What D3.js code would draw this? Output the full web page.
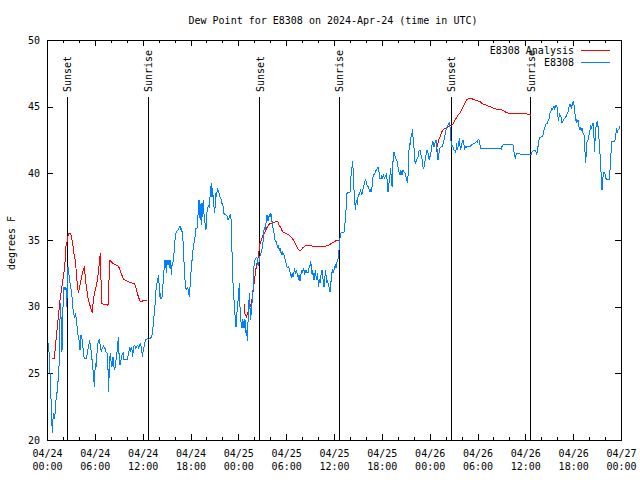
<!DOCTYPE html>
<html><head><meta charset="utf-8">
<script src="https://cdn.jsdelivr.net/npm/d3@7/dist/d3.min.js"></script>
<style>
body{margin:0;background:#fff}
svg{display:block}
text{font-family:"DejaVu Sans Mono",monospace;font-size:10px;fill:#000}
</style></head><body>
<svg id="chart" width="640" height="480"></svg>
<script>
const chartTitle = "Dew Point for E8308 on 2024-Apr-24 (time in UTC)";
const yAxisLabel = "degrees F";
const startTime = "2024-04-24T00:00:00Z";
const xDomainHours = [0, 72];
const yDomain = [20, 50];
const xTickHours = [0, 6, 12, 18, 24, 30, 36, 42, 48, 54, 60, 66, 72];
const xMinorHours = d3.range(0, 73, 2);
const yTicks = [20, 25, 30, 35, 40, 45, 50];
const seriesNames = ["E8308 Analysis", "E8308"];
const seriesColors = ["#ff0000", "#0080ff"];
const eventNames = ["Sunset", "Sunrise", "Sunset", "Sunrise", "Sunset", "Sunrise"];
const eventHours = [2.57, 12.71, 26.66, 36.67, 50.72, 60.71];

// Observed dew point (E8308), hours since start, degrees F
const obsHours = [
0.13,0.25,0.38,0.5,0.59,0.67,0.79,0.96,1.13,1.3,1.46,1.55,1.63,1.71,1.8,1.88,1.97,2.13,2.26,2.38,2.47,2.55,2.63,2.72,2.8,2.97,3.09,3.22,3.3,3.47,3.55,3.64,3.72,3.8,3.89,4.01,4.14,4.26,4.43,4.56,4.68,4.97,5.06,5.23,5.35,5.44,5.56,5.69,5.81,5.94,6.06,6.19,6.31,6.44,6.56,6.69,6.81,6.94,7.07,7.19,7.32,7.4,7.57,7.69,7.74,7.82,7.94,8.03,8.15,8.28,8.4,8.49,8.66,8.82,8.95,9.03,9.16,9.28,9.41,9.58,9.66,10.08,10.25,10.37,10.5,10.62,10.75,10.87,11.0,11.12,11.25,11.37,11.5,11.58,11.71,11.84,11.96,12.09,12.21,12.34,12.46,12.59,12.76,
12.92,13.13,13.25,13.34,13.46,13.59,13.67,13.76,13.88,13.97,14.05,14.13,14.22,14.3,14.43,14.51,14.59,14.68,14.8,14.89,14.97,15.05,15.18,15.26,15.35,15.43,15.51,15.6,15.68,15.76,15.85,15.97,16.06,16.18,16.27,16.39,16.52,16.6,16.68,16.77,16.85,16.98,17.06,17.14,17.23,17.31,17.39,17.52,17.65,17.77,17.85,17.94,18.02,18.15,18.23,18.31,18.4,18.48,18.57,18.65,18.82,18.9,18.98,19.07,19.15,19.23,19.32,19.4,19.48,19.61,19.69,19.78,19.86,19.94,20.03,20.11,20.2,20.28,20.36,20.45,20.53,20.61,20.7,20.78,20.86,20.95,21.03,21.11,21.2,21.28,21.37,21.45,21.53,21.62,21.7,21.78,21.87,21.95,22.04,22.12,22.2,22.29,22.45,22.62,22.7,22.79,22.87,23.04,23.12,23.21,23.29,23.37,23.46,23.54,23.62,23.71,23.79,23.87,23.96,24.04,24.13,24.17,24.21,24.29,24.38,24.46,24.54,24.63,24.71,24.79,24.88,24.96,25.05,25.13,25.21,25.3,25.38,25.46,25.55,25.63,25.71,25.8,25.88,25.97,26.05,26.13,26.3,26.38,26.47,26.55,26.63,26.72,26.8,
26.96,27.05,27.13,27.22,27.3,27.39,27.47,27.56,27.64,27.72,27.81,27.89,27.97,28.06,28.14,28.22,28.31,28.39,28.48,28.56,28.64,28.73,28.81,28.9,28.98,29.06,29.15,29.23,29.31,29.4,29.48,29.56,29.65,29.73,29.82,29.9,29.98,30.07,30.15,30.23,30.32,30.4,30.48,30.57,30.65,30.74,30.82,30.9,30.99,31.07,31.15,31.24,31.32,31.41,31.49,31.57,31.66,31.74,31.82,31.91,31.99,32.07,32.16,32.24,32.33,32.41,32.49,32.58,32.66,32.74,32.83,32.91,33.0,33.08,33.16,33.25,33.33,33.41,33.5,33.58,33.67,33.75,33.83,33.92,34.0,34.08,34.17,34.25,34.34,34.42,34.5,34.59,34.67,34.75,34.84,34.92,35.0,35.09,35.17,35.26,35.34,35.42,35.51,35.59,35.67,35.76,35.84,35.93,36.01,36.09,36.18,36.26,36.34,36.43,36.51,36.6,36.68,
36.76,36.84,37.0,37.26,37.38,37.51,37.59,37.8,38.01,38.13,38.26,38.34,38.43,38.51,38.59,38.68,38.76,38.84,38.93,39.01,39.1,39.18,39.26,39.35,39.43,39.51,39.6,39.68,39.76,39.85,39.93,40.02,40.1,40.18,40.27,40.35,40.43,40.52,40.6,40.68,40.77,40.85,40.94,41.02,41.1,41.19,41.27,41.35,41.44,41.52,41.6,41.69,41.77,41.86,41.94,42.02,42.11,42.19,42.27,42.36,42.44,42.52,42.61,42.69,42.77,42.86,42.94,43.03,43.11,43.19,43.28,43.36,43.44,43.53,43.61,43.69,43.78,43.86,43.94,44.03,44.11,44.2,44.28,44.36,44.45,44.53,44.61,44.7,44.78,44.86,44.95,45.03,45.12,45.2,45.28,45.37,45.45,45.53,45.62,45.7,45.78,45.87,45.95,46.04,46.12,46.2,46.29,46.37,46.45,46.54,46.62,46.7,46.79,46.87,46.96,47.04,47.12,47.21,47.29,47.37,47.46,47.54,47.62,47.71,47.79,47.87,47.96,48.04,48.13,48.21,48.29,48.38,48.46,48.54,48.63,48.71,48.79,48.88,48.96,49.05,49.13,49.21,49.3,49.38,49.55,49.63,49.71,49.8,49.88,49.97,50.05,50.13,50.22,50.3,50.38,50.47,50.55,50.64,50.72,
50.8,50.89,50.97,51.05,51.14,51.22,51.31,51.39,51.47,51.56,51.64,51.72,51.81,51.89,51.97,52.06,52.14,52.22,52.31,52.39,52.48,52.56,52.64,52.89,53.06,53.23,53.4,53.56,53.73,53.9,53.98,54.06,54.15,54.23,54.32,54.4,54.73,55.15,55.57,55.99,56.41,56.82,56.99,57.07,57.16,57.24,57.66,58.08,58.41,58.5,58.58,58.66,58.75,58.83,58.91,59.33,59.75,60.17,60.59,60.75,60.84,61.0,61.26,61.42,61.51,61.59,
61.67,61.76,61.84,62.01,62.18,62.26,62.34,62.43,62.51,62.59,62.76,62.84,62.93,63.01,63.09,63.18,63.26,63.35,63.43,63.51,63.6,63.68,63.76,63.85,63.93,64.01,64.1,64.18,64.27,64.35,64.43,64.52,64.6,64.68,64.77,64.85,64.93,65.02,65.1,65.19,65.27,65.35,65.44,65.52,65.6,65.69,65.77,65.86,65.94,66.02,66.11,66.19,66.27,66.36,66.44,66.52,66.61,66.69,66.78,66.86,66.94,67.03,67.11,67.19,67.28,67.36,67.44,67.53,67.61,67.7,67.78,67.86,67.95,68.03,68.11,68.2,68.28,68.36,68.45,68.53,68.62,68.7,68.78,68.87,68.95,69.03,69.12,69.2,69.28,69.37,69.45,69.54,69.62,69.7,69.79,69.87,69.95,70.04,70.12,70.2,70.54,70.62,70.71,70.79,70.87,71.21,71.29,71.37,71.46,71.54,71.62,71.71,71.79,71.87
];
const obsValues = [
27.3,26.6,25.0,23.1,21.5,20.5,22.0,21.6,23.0,23.75,25.0,26.0,29.0,30.25,28.25,26.6,29.5,31.5,31.25,31.5,30.0,31.25,33.0,32.75,32.0,31.5,31.0,30.25,29.5,29.25,29.5,29.25,29.0,28.25,27.9,27.5,26.75,27.9,27.5,26.6,26.1,26.1,26.6,27.1,27.5,27.0,26.6,25.75,25.0,24.0,25.75,25.5,27.0,27.4,27.5,27.1,26.6,26.9,27.05,26.9,26.9,26.6,26.5,24.75,23.6,25.75,26.5,25.9,25.5,26.25,25.5,25.25,26.0,26.75,27.75,26.5,25.6,26.0,26.4,26.5,26.05,26.05,26.5,27.0,26.6,27.0,26.25,27.0,27.1,26.9,27.0,27.1,26.9,27.1,27.2,27.0,26.25,26.75,27.1,27.5,27.55,27.6,27.55,
27.6,27.75,28.1,28.75,29.5,30.4,31.25,31.75,31.9,32.4,31.75,30.75,31.0,30.6,30.75,31.25,32.1,32.75,33.5,33.25,32.5,33.5,33.1,33.5,32.9,33.5,33.25,32.4,33.1,33.1,33.6,34.25,35.0,35.5,35.6,35.75,35.8,35.95,36.05,35.75,35.9,35.5,34.9,33.75,32.9,32.0,31.4,31.3,31.4,31.1,30.75,31.5,32.4,33.0,33.9,34.25,34.6,35.0,35.25,35.9,35.9,36.5,37.25,38.0,36.9,36.5,37.75,36.1,37.25,38.0,37.0,36.5,36.0,35.75,36.75,37.4,37.5,37.6,37.5,38.25,38.75,39.25,38.25,38.9,38.0,37.5,37.0,37.75,38.5,38.25,38.9,38.75,38.6,38.5,38.25,38.1,38.0,37.75,37.75,37.4,37.0,36.9,36.9,36.75,36.5,36.6,36.75,36.9,36.25,34.0,32.4,31.25,30.5,30.0,28.9,28.5,29.1,30.0,30.4,31.0,31.75,31.0,30.0,29.25,28.5,28.4,29.1,28.75,28.4,29.1,28.9,28.0,28.25,27.4,28.75,30.0,31.0,29.9,29.0,29.75,30.25,30.75,31.75,33.1,33.4,33.55,33.7,33.6,33.1,33.1,33.5,33.8,33.95,
34.25,34.6,35.0,35.75,36.0,35.75,36.25,36.9,36.75,36.4,36.75,36.9,36.75,37.05,36.9,36.4,36.0,35.75,35.5,35.1,34.9,34.9,34.75,34.5,34.6,34.4,34.25,34.4,34.1,34.0,33.9,34.1,34.0,33.9,33.6,33.5,33.25,33.0,32.95,32.9,33.0,32.75,32.6,32.4,32.25,32.5,32.25,32.25,32.6,32.9,32.5,32.6,32.75,32.25,32.4,32.0,32.4,31.9,32.25,32.6,32.75,32.5,32.9,32.75,32.5,32.6,32.75,32.6,32.6,32.5,32.75,33.0,33.1,33.4,33.0,32.4,32.75,32.25,32.0,32.4,32.75,32.25,32.0,32.5,32.0,31.5,32.1,31.75,32.25,32.6,32.75,32.25,31.9,31.5,32.0,32.75,32.4,31.75,32.0,31.75,31.5,31.4,31.1,31.6,32.25,32.6,32.75,32.5,32.75,33.0,33.1,32.9,33.25,33.5,33.6,34.0,34.75,
35.2,35.5,35.6,35.6,36.25,37.25,38.5,38.55,38.6,39.75,40.5,40.9,40.0,38.75,38.0,37.25,37.75,38.0,37.6,38.25,38.4,38.45,38.6,38.75,38.5,38.4,38.75,38.9,39.1,39.4,39.5,39.4,39.25,39.0,39.0,38.9,38.75,38.6,38.75,38.6,39.0,39.5,39.9,39.9,40.0,40.1,40.25,40.25,40.4,40.45,40.25,40.0,39.6,39.6,39.75,39.6,39.7,39.9,39.75,39.6,39.9,39.75,40.0,39.1,38.6,39.0,39.5,39.9,40.4,39.5,39.0,40.75,41.0,41.6,41.4,41.25,41.1,41.0,40.9,40.5,40.25,40.0,39.9,40.25,40.1,39.9,40.25,40.25,40.1,40.1,39.9,39.75,39.5,39.4,39.75,41.25,42.25,42.1,42.5,43.0,42.9,43.3,42.25,41.9,40.9,40.75,40.9,41.0,41.1,41.25,41.6,41.75,41.75,41.5,41.25,41.1,40.6,40.4,40.5,40.75,41.1,41.4,41.75,41.75,41.5,41.25,41.0,41.25,41.5,41.75,42.1,42.4,42.25,42.0,42.1,42.4,42.5,42.1,41.5,41.0,41.25,41.75,41.9,41.95,42.0,42.1,42.25,42.5,42.75,43.0,43.25,43.4,43.5,43.6,43.75,43.8,43.5,42.75,42.1,
42.0,42.1,41.9,41.75,41.75,41.6,41.75,42.25,41.75,42.0,42.4,42.5,42.0,41.75,42.1,42.25,42.5,42.5,42.1,41.75,42.0,41.9,42.0,42.0,42.0,42.1,42.2,42.25,42.3,42.4,42.25,42.5,42.55,42.45,42.1,41.9,41.9,41.9,41.85,41.85,41.85,41.85,41.8,42.0,42.1,42.2,42.2,42.2,42.2,42.1,41.6,41.4,41.1,41.4,41.5,41.45,41.4,41.4,41.45,41.45,41.6,41.7,41.7,41.45,41.6,42.0,
42.4,42.6,42.7,42.75,42.8,43.0,43.25,43.4,43.55,43.7,43.75,43.9,44.0,44.1,44.5,44.6,44.75,44.9,44.75,45.0,45.05,44.75,45.0,45.1,45.0,44.9,44.25,43.9,44.5,44.25,44.4,44.0,43.8,43.9,44.0,44.1,44.1,44.2,44.25,44.4,44.5,44.6,44.9,45.1,45.2,45.0,44.9,45.1,45.25,45.4,45.1,44.9,44.0,44.1,43.75,43.9,44.0,43.5,43.4,43.25,43.4,43.25,43.4,43.1,43.0,42.9,42.5,40.75,41.25,42.25,42.4,42.5,42.75,43.0,43.25,43.5,43.4,43.55,43.7,43.8,42.6,41.6,43.25,43.5,43.75,43.95,43.5,42.9,42.25,41.4,40.5,39.6,38.75,39.5,39.9,40.1,40.05,39.9,39.6,39.55,39.55,40.25,41.1,42.0,42.4,42.4,42.6,43.0,43.25,43.1,43.25,43.3,43.4,43.5
];

// Analysis dew point (E8308 Analysis); null marks a gap
const anaHours = [
0.67,0.92,1.09,1.21,1.42,1.63,1.88,2.05,2.22,2.38,2.55,2.68,2.97,3.09,3.22,3.34,3.47,3.6,3.72,3.85,3.93,4.06,4.18,4.31,4.43,4.56,4.68,4.81,4.93,5.06,5.18,5.31,5.44,5.56,5.69,5.81,5.94,6.06,6.19,6.31,6.44,6.56,6.69,6.77,6.86,7.07,7.36,7.65,7.78,7.9,8.15,8.4,8.74,8.99,9.16,9.37,9.58,9.78,10.08,10.41,10.96,11.16,11.29,11.46,11.67,11.88,12.3,12.59,
18.0,
24.75,24.8,25.0,25.2,25.4,25.6,25.8,26.0,26.2,26.4,26.55,26.65,26.75,26.9,27.13,27.34,27.55,27.76,27.97,28.39,28.81,28.93,29.14,29.35,29.56,29.77,30.06,30.4,30.69,30.9,31.11,31.32,31.52,31.73,31.94,32.15,32.49,32.78,33.2,33.83,34.45,35.0,35.29,35.71,36.13,36.42,36.67,
42.0,
48.79,48.96,49.13,49.3,49.51,49.71,50.13,50.55,50.76,50.97,51.18,51.39,51.6,51.81,52.02,52.22,52.43,52.64,52.85,53.27,53.48,53.9,54.32,54.52,54.73,55.15,55.57,55.99,56.41,56.82,57.24,57.66,58.08,58.91,59.75,60.25,60.59,60.72
];
const anaValues = [
26.1,26.1,27.25,28.0,29.25,30.5,31.5,32.25,33.0,34.5,35.0,35.5,35.5,35.1,34.75,34.1,33.75,33.25,32.1,31.5,31.0,31.4,31.75,32.1,32.5,32.75,32.9,32.25,31.5,31.0,30.5,30.25,30.0,29.75,29.55,30.5,31.0,31.25,31.6,32.0,32.6,33.25,34.0,32.1,30.25,30.2,30.2,30.1,32.0,33.5,33.3,33.2,33.1,33.0,32.75,32.4,32.05,32.0,31.9,31.8,31.75,31.4,31.1,30.75,30.4,30.4,30.5,30.5,
null,
30.2,29.5,29.25,29.6,29.9,30.2,30.9,31.9,32.8,33.5,33.85,34.6,34.8,35.0,35.4,35.6,35.9,36.1,36.25,36.3,36.4,36.4,36.1,35.9,35.6,35.55,35.45,35.35,35.2,35.0,34.75,34.5,34.3,34.2,34.3,34.45,34.6,34.6,34.55,34.55,34.55,34.55,34.6,34.75,34.9,35.0,35.0,
null,
41.6,42.1,42.5,42.75,43.1,43.3,43.4,43.55,43.6,43.75,44.0,44.2,44.4,44.55,44.75,45.0,45.25,45.5,45.6,45.6,45.55,45.45,45.4,45.25,45.2,45.1,45.0,44.9,44.8,44.8,44.7,44.55,44.5,44.5,44.5,44.45,44.4,44.3
];

const W = 640, H = 480;
const plot = {left: 47, right: 621, top: 40, bottom: 440};
const t0 = new Date(startTime);
const toDate = h => new Date(t0.getTime() + h * 3600000);

const svg = d3.select("#chart");
svg.append("rect").attr("width", W).attr("height", H).attr("fill", "#fff");

const x = d3.scaleUtc().domain(xDomainHours.map(toDate)).range([plot.left, plot.right]);
const y = d3.scaleLinear().domain(yDomain).range([plot.bottom, plot.top]);

// Title
svg.append("text").attr("x", 333).attr("y", 24).attr("text-anchor", "middle").text(chartTitle);
// Y label
svg.append("text").attr("transform", "translate(11,243) rotate(-90)")
  .attr("text-anchor", "middle").attr("dy", "0.35em").text(yAxisLabel);

const fmtDate = d3.utcFormat("%m/%d"), fmtTime = d3.utcFormat("%H:%M");
const majorDates = xTickHours.map(toDate), minorDates = xMinorHours.map(toDate);

function styleAxis(g) {
  g.select(".domain").remove();
  g.selectAll("line").attr("stroke", "#000").attr("shape-rendering", "crispEdges");
  g.selectAll("text").attr("font-family", '"DejaVu Sans Mono",monospace').attr("font-size", 10).attr("fill", "#000");
}

// bottom axis (major, labelled)
const gB = svg.append("g").attr("transform", `translate(0,${plot.bottom})`)
  .call(d3.axisBottom(x).tickValues(majorDates).tickSizeInner(-6).tickSizeOuter(0).tickPadding(10).tickFormat(fmtDate))
  .call(styleAxis);
gB.selectAll(".tick text").each(function(d) {
  const t = d3.select(this);
  t.text(null);
  t.append("tspan").attr("x", 0).text(fmtDate(d));
  t.append("tspan").attr("x", 0).attr("dy", 13).text(fmtTime(d));
});
svg.append("g").attr("transform", `translate(0,${plot.bottom})`)
  .call(d3.axisBottom(x).tickValues(minorDates).tickSizeInner(-3).tickSizeOuter(0).tickFormat(""))
  .call(styleAxis);
// top mirror
svg.append("g").attr("transform", `translate(0,${plot.top})`)
  .call(d3.axisTop(x).tickValues(majorDates).tickSizeInner(-6).tickSizeOuter(0).tickFormat(""))
  .call(styleAxis);
svg.append("g").attr("transform", `translate(0,${plot.top})`)
  .call(d3.axisTop(x).tickValues(minorDates).tickSizeInner(-3).tickSizeOuter(0).tickFormat(""))
  .call(styleAxis);
// left axis
svg.append("g").attr("transform", `translate(${plot.left},0)`)
  .call(d3.axisLeft(y).tickValues(yTicks).tickSizeInner(-6).tickSizeOuter(0).tickPadding(7).tickFormat(d3.format("d")))
  .call(styleAxis);
// right mirror
svg.append("g").attr("transform", `translate(${plot.right},0)`)
  .call(d3.axisRight(y).tickValues(yTicks).tickSizeInner(-6).tickSizeOuter(0).tickFormat(""))
  .call(styleAxis);

// border
svg.append("rect").attr("x", plot.left).attr("y", plot.top)
  .attr("width", plot.right - plot.left).attr("height", plot.bottom - plot.top)
  .attr("fill", "none").attr("stroke", "#000").attr("shape-rendering", "crispEdges");

// Sunrise / sunset markers
const events = eventNames.map((n, i) => ({name: n, t: toDate(eventHours[i])}));
const ev = svg.append("g");
ev.selectAll("line").data(events).join("line")
  .attr("x1", d => x(d.t)).attr("x2", d => x(d.t))
  .attr("y1", 97).attr("y2", plot.bottom)
  .attr("stroke", "#000").attr("shape-rendering", "crispEdges");
ev.selectAll("text").data(events).join("text")
  .attr("transform", d => `translate(${x(d.t) + 0.5},92) rotate(-90)`)
  .attr("dy", "0.35em").attr("text-anchor", "start").text(d => d.name);

// Series
const obs = obsHours.map((h, i) => ({t: toDate(h), v: obsValues[i]}));
const ana = anaHours.map((h, i) => ({t: toDate(h), v: anaValues[i]}));
const line = d3.line().defined(d => d.v !== null).x(d => x(d.t)).y(d => y(d.v));

svg.append("path").datum(ana).attr("d", line)
  .attr("fill", "none").attr("stroke", seriesColors[0]).attr("stroke-width", 1)
  .attr("shape-rendering", "crispEdges");
svg.append("path").datum(obs).attr("d", line)
  .attr("fill", "none").attr("stroke", seriesColors[1]).attr("stroke-width", 1)
  .attr("shape-rendering", "crispEdges");

// Legend
const lg = svg.append("g");
seriesNames.forEach((n, i) => {
  const ly = 50.5 + i * 12;
  lg.append("text").attr("x", 574).attr("y", ly).attr("dy", "0.35em").attr("text-anchor", "end").text(n);
  lg.append("line").attr("x1", 581).attr("x2", 610).attr("y1", ly).attr("y2", ly)
    .attr("stroke", seriesColors[i]).attr("shape-rendering", "crispEdges");
});
</script>
</body></html>
